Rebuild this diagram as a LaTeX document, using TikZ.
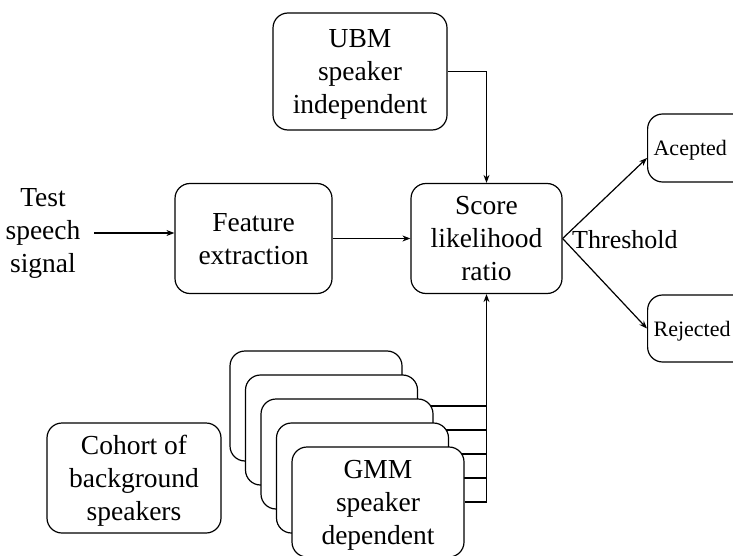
\documentclass[tikz,border=0pt]{standalone}
\usepackage{fontspec}
\setmainfont{Liberation Serif}
\usetikzlibrary{arrows.meta}
\begin{document}
\begin{tikzpicture}[x=1pt,y=-1pt,
  every node/.style={font=\fontsize{27.5}{33}\selectfont, align=center},
  small/.style={font=\fontsize{26}{33}\selectfont},
  edgetext/.style={font=\fontsize{22}{26}\selectfont},
  box/.style={draw, line width=1.2pt, rounded corners=15pt, fill=white, inner sep=0pt, text depth=-6pt},
  conn/.style={line width=1.2pt},
  arr/.style={conn, -{Stealth[length=8pt,width=6pt]}}]
\useasboundingbox (0,0) rectangle (733,556);
\node[box, minimum width=174pt, minimum height=117pt] (ubm) at (360,71.5) {UBM\\speaker\\independent};
\node[inner xsep=13.5pt, inner ysep=0pt] (test) at (43,233) {Test\\speech\\signal};
\node[box, minimum width=157pt, minimum height=110pt] (feat) at (253.5,238.5) {Feature\\extraction};
\node[box, minimum width=151pt, minimum height=110pt] (score) at (486.5,238.5) {Score\\likelihood\\ratio};
\node[small, anchor=west, inner sep=0pt] (thr) at (572,240) {Threshold};
\node[box, edgetext, text depth=0pt, anchor=west, text width=95pt, align=left, inner xsep=6pt, minimum height=68pt] (acc) at (647,148) {Acepted};
\node[box, edgetext, text depth=0pt, anchor=west, text width=95pt, align=left, inner xsep=6pt, minimum height=67pt] (rej) at (647,328.5) {Rejected};
\node[box, minimum width=174pt, minimum height=110pt] (coh) at (134,478) {Cohort of\\background\\speakers};
\foreach \i in {0,...,3} {
  \node[box, minimum width=172pt, minimum height=110pt] (g\i) at ({316+15.5*\i},{406+24*\i}) {};
  \draw[conn] (g\i.east) -- (g\i.east -| score.south);
}
\node[box, minimum width=172pt, minimum height=110pt] (g4) at (378,502) {GMM\\speaker\\dependent};
\coordinate (j) at (g4.east -| score.south);
\draw[conn] (g4.east) -- (j);
\draw[arr] (j) -- (score.south);
\draw[arr] (ubm.east) -| (score.north);
\draw[arr] (test.east) -- (test.east -| feat.west);
\draw[arr] (feat.east) -- (score.west);
\draw[arr] (score.east) -- ([yshift=-10pt]acc.west);
\draw[arr] (score.east) -- (rej.west);
\end{tikzpicture}
\end{document}
